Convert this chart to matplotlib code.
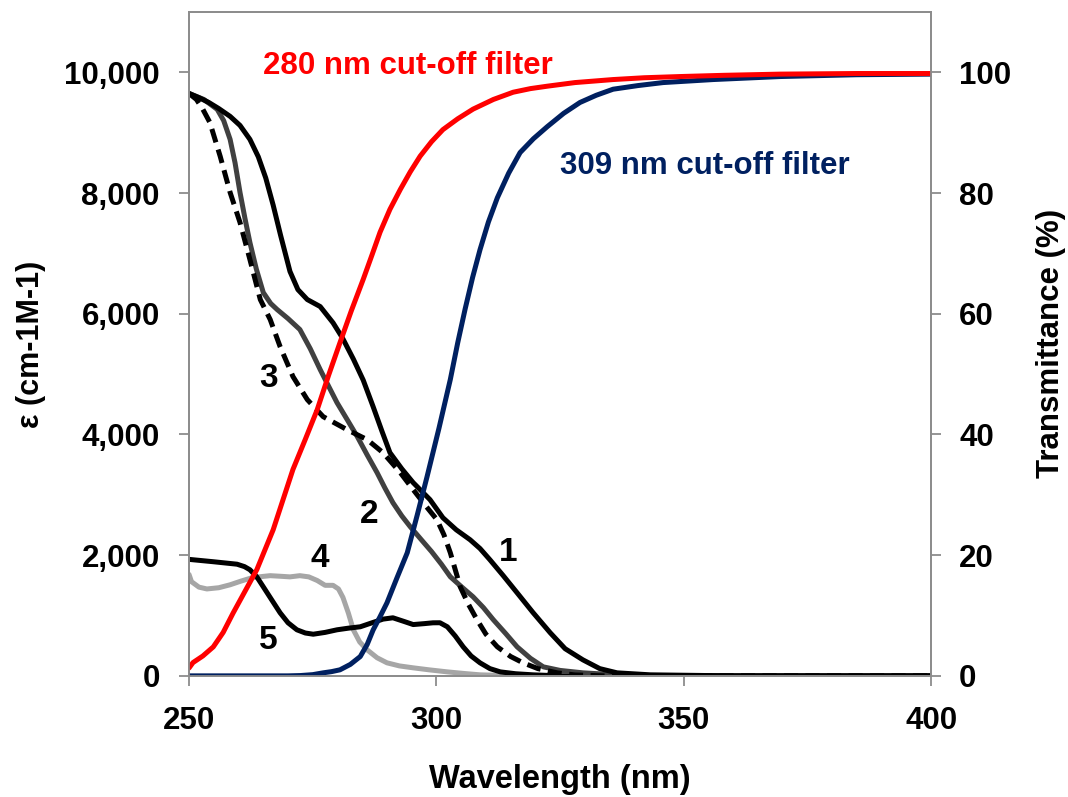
import numpy as np
import matplotlib.pyplot as plt

plt.rcParams['font.family'] = ['Liberation Sans', 'DejaVu Sans']
plt.rcParams['font.weight'] = 'bold'

# extinction spectra (nm, epsilon)
wl1 = [250, 252, 254, 256, 258.3, 260.3, 262.3, 264, 265.5, 267, 268.5, 270.4, 272, 273.9,
       276.5, 279.1, 281, 283.2, 285.2, 287.2, 289, 290.6, 293, 295.3, 298.7, 301.3,
       304, 306.8, 308.8, 310.8, 313.5, 316.3, 319.5, 323, 326, 329.6, 333, 336.5,
       343.2, 360, 400]
eps1 = [9650, 9580, 9500, 9400, 9270, 9120, 8889, 8600, 8250, 7800, 7300, 6700, 6400, 6235,
        6119, 5850, 5600, 5250, 4900, 4461, 4050, 3698, 3430, 3201, 2919, 2620,
        2420, 2255, 2110, 1924, 1660, 1376, 1050, 713, 450, 265, 120, 50,
        17, 0, 0]

wl2 = [250, 253, 255.7, 257, 258.3, 259.3, 260.3, 261.3, 262.3, 263.6, 265, 266.5, 267.8,
       270, 272.4, 274.5, 276.5, 278.2, 279.9, 282, 284, 286, 288, 289.6, 291.2, 293,
       294.7, 297, 299, 301, 302.8, 305, 307.4, 309.5, 311.5, 314, 316.3, 319, 321.6,
       325, 329.6, 336.5, 345, 400]
eps2 = [9650, 9550, 9386, 9200, 8889, 8500, 8010, 7580, 7181, 6740, 6352, 6170, 6070,
        5920, 5738, 5420, 5075, 4800, 4527, 4240, 3964, 3660, 3367, 3110, 2869, 2650,
        2471, 2250, 2060, 1850, 1642, 1480, 1310, 1130, 929, 700, 481, 290, 149,
        90, 50, 17, 0, 0]

wl3 = [250, 251.5, 252.8, 254.2, 256.3, 258.3, 260.3, 262.3, 264.4, 266.4, 268.4, 271, 273.9,
       277.1, 281.9, 286, 289.2, 292.7, 295.3, 298, 300.1, 301.5, 302.8, 304.8, 306.5,
       308.2, 310, 312.3, 315, 317.5, 320.5, 324.4, 328, 333.7, 400]
eps3 = [9650, 9550, 9386, 9171, 8607, 8010, 7512, 6899, 6235, 5904, 5456, 4959, 4577,
        4295, 4080, 3914, 3698, 3367, 3085, 2800, 2587, 2340, 2040, 1476, 1180,
        929, 690, 481, 320, 216, 120, 50, 15, 0, 0]

wl4 = [250, 250.5, 252, 253.6, 256, 258.3, 260.5, 262.9, 266.4, 268.5, 270.4, 272.4, 274.2,
       275.9, 277.5, 279.1, 280.2, 281.1, 282.2, 283.2, 284.5, 286, 288, 290, 292.5,
       295.3, 298.5, 302.2, 305.5, 308.8, 313, 320, 400]
eps4 = [1680, 1560, 1470, 1440, 1460, 1509, 1570, 1630, 1660, 1650, 1640, 1660, 1640,
        1580, 1500, 1500, 1440, 1300, 1040, 763, 560, 431, 300, 216, 165,
        133, 100, 66, 40, 17, 8, 0, 0]

wl5 = [250, 254.9, 259.7, 261.2, 262.3, 263.7, 265, 266.7, 268.4, 270, 271.8, 273.5, 275.1,
       277.5, 279.9, 282.2, 284.6, 287, 289.2, 291.2, 293.5, 295.3, 297.5, 299.3, 300.7,
       302.2, 303.8, 305.4, 307, 308.8, 310.8, 312.9, 316, 319.5, 325, 400]
eps5 = [1930, 1891, 1850, 1810, 1758, 1640, 1476, 1260, 1045, 880, 763, 710, 690,
        720, 763, 790, 813, 880, 940, 962, 900, 850, 865, 879, 880,
        813, 660, 481, 330, 216, 120, 66, 35, 17, 0, 0]

# filter transmittance (nm, %)
wl_280 = [250, 250.8, 252.8, 254.9, 256.9, 258.9, 261.3, 263.7, 265.3, 267, 269, 271,
          273.5, 275.9, 278.2, 280.5, 282.8, 285.2, 287, 288.6, 290.6, 292.7, 294.7,
          296.7, 299, 301.3, 304.3, 307.4, 311.5, 315.5, 319, 322.4, 328, 335.7, 342,
          349.3, 358, 369.5, 385, 400]
t_280 = [1.3, 2.2, 3.3, 4.8, 7.2, 10.4, 14.0, 17.6, 20.8, 24.2, 29.2, 34.2,
         39.2, 44.1, 49.8, 55.2, 60.5, 65.7, 69.8, 73.5, 77.3, 80.6, 83.5,
         86.1, 88.5, 90.5, 92.3, 93.9, 95.5, 96.7, 97.3, 97.7, 98.3, 98.8, 99.1,
         99.3, 99.5, 99.7, 99.8, 99.8]

wl_309 = [250, 270, 272.5, 275, 277.1, 278.8, 280.5, 282.6, 284.6, 286, 287.2, 288.6,
          290, 292, 294.1, 296.1, 298.1, 300.5, 302.8, 304.3, 305.8, 307.3, 308.8,
          310.5, 312.3, 314.6, 316.9, 319.6, 322.4, 325.7, 329, 332.3, 335.7, 340.7,
          345.8, 355.9, 369.5, 385, 400]
t_309 = [0, 0, 0.05, 0.2, 0.5, 0.7, 1.0, 1.9, 3.2, 5.2, 7.6, 9.8,
         12.1, 16.2, 20.4, 26.6, 33.0, 41.0, 49.1, 55.2, 60.8, 66.0, 70.6,
         75.2, 79.2, 83.3, 86.7, 89.0, 91.0, 93.2, 95.0, 96.2, 97.2, 97.8,
         98.3, 98.8, 99.3, 99.6, 99.7]

fig = plt.figure(figsize=(10.68, 7.97), dpi=100)
ax = fig.add_axes([0.177, 0.152, 0.695, 0.833])

lw = 3.6
kw = dict(lw=lw, solid_joinstyle='round', solid_capstyle='round')
ax.plot(wl4, eps4, color='#A6A6A6', **kw)
ax.plot(wl5, eps5, color='black', **kw)
ax.plot(wl2, eps2, color='#404040', **kw)
ax.plot(wl3, eps3, color='black', lw=lw, ls=(0, (2.8, 1.5)))
ax.plot(wl1, eps1, color='black', **kw)

ax.set_xlim(250, 400)
ax.set_ylim(0, 11000)
ax.set_xticks([250, 300, 350, 400])
ax.set_yticks(np.arange(0, 10001, 2000))
ax.set_yticklabels([f'{v:,}' for v in range(0, 10001, 2000)])

ax2 = ax.twinx()
ax2.plot(wl_309, t_309, color='#002060', **kw)
ax2.plot(wl_280, t_280, color='#FF0000', **kw)
ax2.set_ylim(0, 110)
ax2.set_yticks(np.arange(0, 101, 20))

for a in (ax, ax2):
    for s in a.spines.values():
        s.set_color('#8C8C8C')
        s.set_linewidth(1.3)
    a.tick_params(colors='#8C8C8C', labelcolor='black', length=7, width=1.3,
                  labelsize=22.5)
ax.tick_params(axis='y', pad=14)
ax.tick_params(axis='x', pad=15)
ax2.tick_params(axis='y', pad=13)

ax.set_xlabel('Wavelength (nm)', fontsize=23.5, fontweight='bold', labelpad=20)
ax.set_ylabel('ε (cm-1M-1)', fontsize=22, fontweight='bold', labelpad=13)
ax2.set_ylabel('Transmittance (%)', fontsize=22.5, fontweight='bold', labelpad=18)

ax.text(265, 10100, '280 nm cut-off filter', color='#FF0000', fontsize=22.5,
        fontweight='bold', va='center', ha='left')
ax.text(325, 8450, '309 nm cut-off filter', color='#002060', fontsize=22.5,
        fontweight='bold', va='center', ha='left')

labels = ['1', '2', '3', '4', '5']
lab_x = [314.5, 286.5, 266, 276.5, 266]
lab_y = [2050, 2670, 4930, 1950, 580]
for t, x, y in zip(labels, lab_x, lab_y):
    ax.text(x, y, t, fontsize=24, fontweight='bold', ha='center', va='center')

fig.savefig('out.png', dpi=100)
